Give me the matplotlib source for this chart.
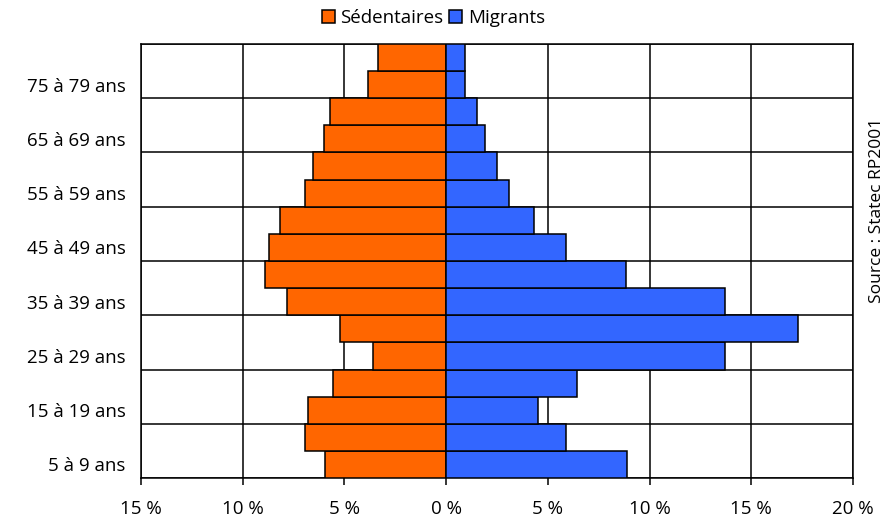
import matplotlib.pyplot as plt
import numpy as np

plt.rcParams['font.family'] = ['Open Sans', 'DejaVu Sans']

# Tranches d'âge (de bas en haut)
ages = ['5 à 9 ans', '10 à 14 ans', '15 à 19 ans', '20 à 24 ans', '25 à 29 ans',
        '30 à 34 ans', '35 à 39 ans', '40 à 44 ans', '45 à 49 ans', '50 à 54 ans',
        '55 à 59 ans', '60 à 64 ans', '65 à 69 ans', '70 à 74 ans', '75 à 79 ans',
        '80 à 84 ans']
sedentaires = [5.96, 6.95, 6.80, 5.56, 3.61, 5.20, 7.81, 8.91, 8.73, 8.17,
               6.92, 6.55, 6.01, 5.73, 3.83, 3.37]
migrants = [8.88, 5.89, 4.52, 6.41, 13.7, 17.3, 13.7, 8.86, 5.91, 4.34,
            3.09, 2.49, 1.90, 1.51, 0.91, 0.91]
xticks = [-15, -10, -5, 0, 5, 10, 15, 20]

fig = plt.figure(figsize=(8.88, 5.2), dpi=100)
ax = fig.add_axes([141/888, 1 - 478/520, (853-141)/888, (478-44)/520])

y = np.arange(len(ages))
ax.barh(y, -np.array(sedentaires), height=1.0, color='#FF6600', edgecolor='black',
        linewidth=1.1, label='Sédentaires', zorder=3)
ax.barh(y, migrants, height=1.0, color='#3366FF', edgecolor='black',
        linewidth=1.1, label='Migrants', zorder=3)

ax.set_xlim(-15, 20)
ax.set_ylim(-0.5, len(ages) - 0.5)

# quadrillage
for v in xticks:
    ax.axvline(v, color='black', linewidth=1.1, zorder=1)
for b in np.arange(-0.5, len(ages), 2):
    ax.axhline(b, color='black', linewidth=1.1, zorder=1)

ax.set_xticks(xticks)
ax.set_xticklabels([f'{abs(v)} %' for v in xticks], fontsize=13.5)
ax.set_yticks(y[::2])
ax.set_yticklabels(ages[::2], fontsize=13.5)
ax.tick_params(axis='x', length=5, width=1.1, pad=11)
ax.tick_params(axis='y', length=0, pad=11)
for s in ax.spines.values():
    s.set_linewidth(1.1)

fig.legend(loc='upper center', bbox_to_anchor=(0.488, 1.015), ncol=2, frameon=False,
           fontsize=13.5, handlelength=0.7, handleheight=0.7, handletextpad=0.3,
           columnspacing=0.3)

fig.text(0.997, 0.595, 'Source : Statec RP2001', rotation=90, ha='right', va='center',
         fontsize=12.5)

fig.savefig('out.png', dpi=100)
